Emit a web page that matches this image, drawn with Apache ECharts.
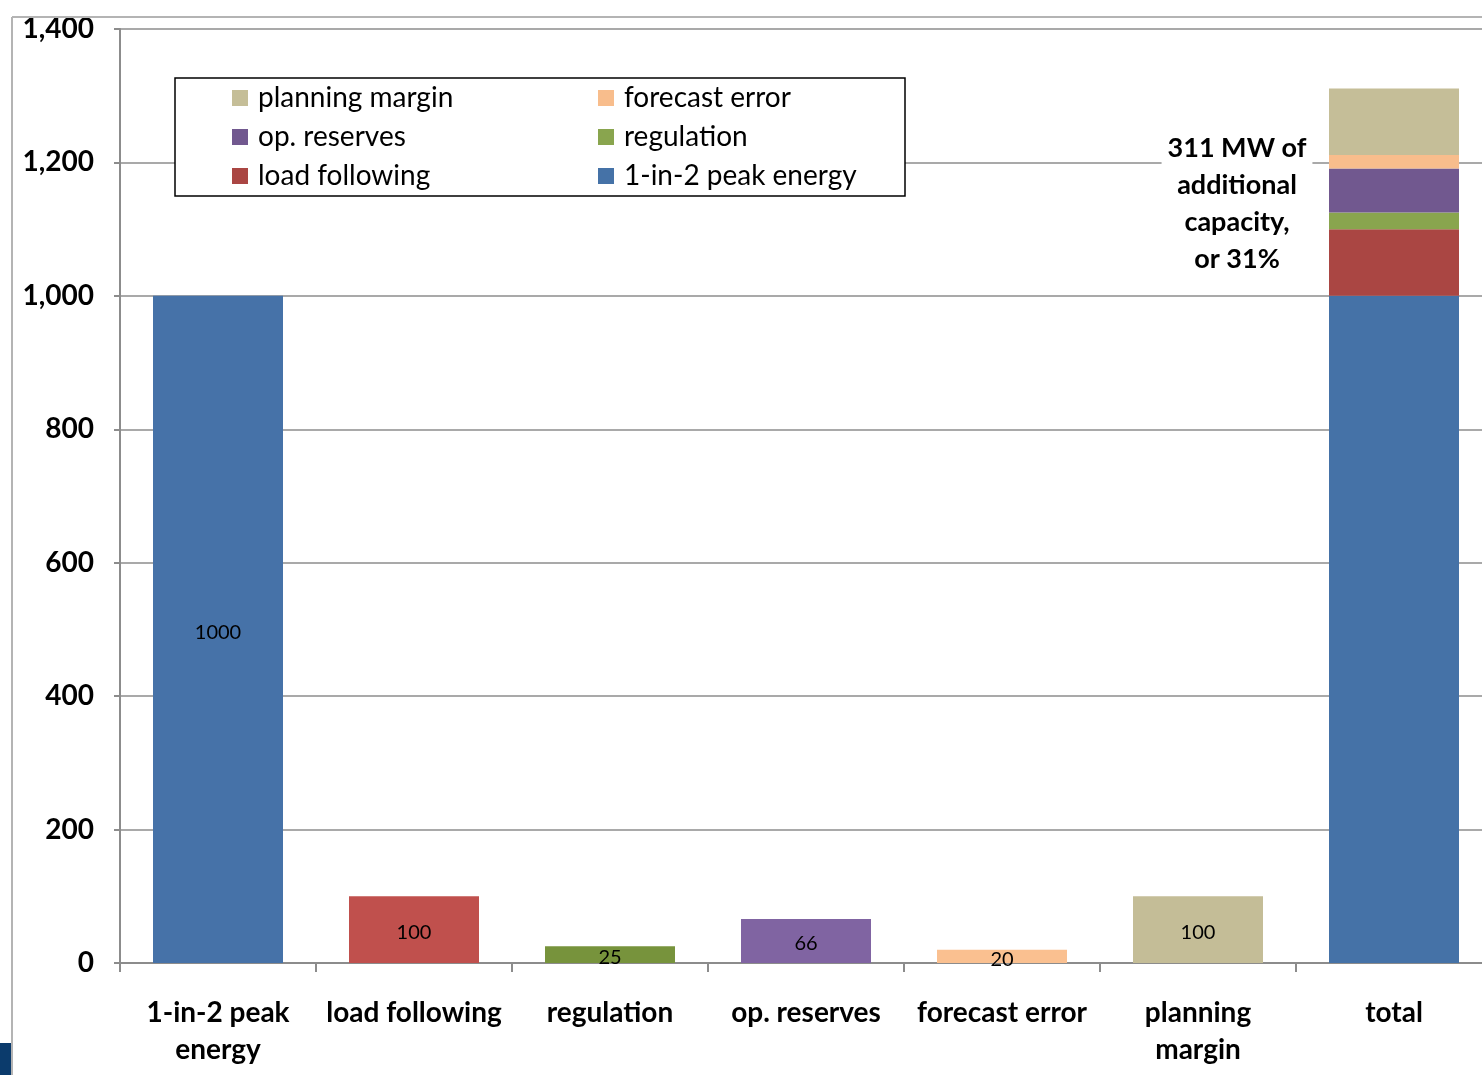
<!DOCTYPE html>
<html>
<head>
<meta charset="utf-8">
<title>Capacity requirement build-up</title>
<script src="https://cdn.jsdelivr.net/npm/echarts@6/dist/echarts.min.js"></script>
<style>
  html, body { margin: 0; padding: 0; background: #fff; overflow: hidden; }
  /* the plot area runs on past the right edge of the page */
  #chart { width: 1500px; height: 1075px; }
</style>
</head>
<body>
<div id="chart"></div>
<script>
// Categories along the x axis
const categories = ['1-in-2 peak\nenergy', 'load following', 'regulation', 'op. reserves', 'forecast error', 'planning\nmargin', 'total'];

// Components of the capacity requirement (MW)
const componentNames = ['1-in-2 peak energy', 'load following', 'regulation', 'op. reserves', 'forecast error', 'planning margin'];
const componentValues = [1000, 100, 25, 66, 20, 100];

// Colours of the individual bars and of the stacked total / legend
const barColors = ['#4672A8', '#C0504D', '#77933C', '#8064A2', '#FAC090', '#C4BD97'];
const stackColors = ['#4572A7', '#AA4643', '#89A54E', '#71588F', '#F8BD8C', '#C5BE98'];

// Y axis ticks
const yMin = 0, yMax = 1400, yStep = 200;

// Annotation next to the total bar
const noteLines = ['311 MW of', 'additional', 'capacity,', 'or 31%'];
const noteValue = 1138;

const FONT = 'Lato, "Open Sans", sans-serif';
const GRID = '#8c8c8c';
const totalIndex = categories.length - 1;

const series = componentNames.map((name, i) => {
  const data = categories.map((c, j) => {
    if (j === i) {
      return {
        value: componentValues[i],
        itemStyle: { color: barColors[i] },
        label: { show: true }
      };
    }
    if (j === totalIndex) return componentValues[i];
    return '-';
  });
  return {
    name: name,
    type: 'bar',
    stack: 'total',
    barWidth: 130,
    itemStyle: { color: stackColors[i] },
    label: {
      show: false,
      position: 'inside',
      offset: [0, 3],
      color: '#000',
      fontFamily: FONT,
      fontSize: 20
    },
    emphasis: { disabled: true },
    data: data
  };
});

const legendCommon = {
  orient: 'vertical',
  icon: 'rect',
  padding: 0,
  itemWidth: 16,
  itemHeight: 16,
  itemGap: 9,
  top: 83,
  z: 10,
  selectedMode: false,
  textStyle: {
    fontFamily: FONT,
    fontSize: 28,
    lineHeight: 30,
    color: '#000',
    padding: [0, 0, 0, 5]
  }
};

const chart = echarts.init(document.getElementById('chart'));

chart.setOption({
  animation: false,
  backgroundColor: '#fff',
  grid: { left: 120, top: 29, width: 1372, height: 934 },
  legend: [
    Object.assign({}, legendCommon, { left: 232, data: ['planning margin', 'op. reserves', 'load following'] }),
    Object.assign({}, legendCommon, { left: 598, data: ['forecast error', 'regulation', '1-in-2 peak energy'] })
  ],
  xAxis: {
    type: 'category',
    data: categories,
    axisLine: { lineStyle: { color: GRID, width: 2 } },
    axisTick: { show: true, length: 9, interval: 0, lineStyle: { color: GRID, width: 2 } },
    axisLabel: {
      interval: 0,
      margin: 31,
      color: '#000',
      fontFamily: FONT,
      fontWeight: 'bold',
      fontSize: 28,
      lineHeight: 37
    }
  },
  yAxis: {
    type: 'value',
    min: yMin,
    max: yMax,
    interval: yStep,
    axisLine: { show: true, lineStyle: { color: GRID, width: 2 } },
    axisTick: { show: true, length: 6, lineStyle: { color: GRID, width: 2 } },
    splitLine: { lineStyle: { color: GRID, width: 1.5 } },
    axisLabel: {
      margin: 26,
      color: '#000',
      fontFamily: FONT,
      fontWeight: 'bold',
      fontSize: 28,
      formatter: v => v.toLocaleString('en-US')
    }
  },
  series: series
});

// Legend frame, outer frame and the note beside the total bar
const anchor = chart.convertToPixel({ xAxisIndex: 0, yAxisIndex: 0 }, [totalIndex, noteValue]);

chart.setOption({
  graphic: [
    {
      type: 'rect',
      z: 5,
      shape: { x: 175, y: 78, width: 730, height: 118 },
      style: { fill: '#fff', stroke: '#000', lineWidth: 1.5 }
    },
    {
      type: 'line',
      z: 5,
      shape: { x1: 12, y1: 17, x2: 12, y2: 1075 },
      style: { stroke: '#b4b4b4', lineWidth: 2 }
    },
    {
      type: 'line',
      z: 5,
      shape: { x1: 12, y1: 17, x2: 1500, y2: 17 },
      style: { stroke: '#b4b4b4', lineWidth: 2 }
    },
    {
      type: 'rect',
      z: 5,
      shape: { x: 0, y: 1043, width: 11, height: 32 },
      style: { fill: '#0b3b6c' }
    },
    {
      type: 'text',
      z: 10,
      x: anchor[0] - 157,
      y: anchor[1],
      style: {
        text: noteLines.join('\n'),
        fill: '#000',
        font: 'bold 27px ' + FONT,
        lineHeight: 37,
        align: 'center',
        verticalAlign: 'middle',
        backgroundColor: '#fff',
        padding: [0, 6]
      }
    }
  ]
});
</script>
</body>
</html>
